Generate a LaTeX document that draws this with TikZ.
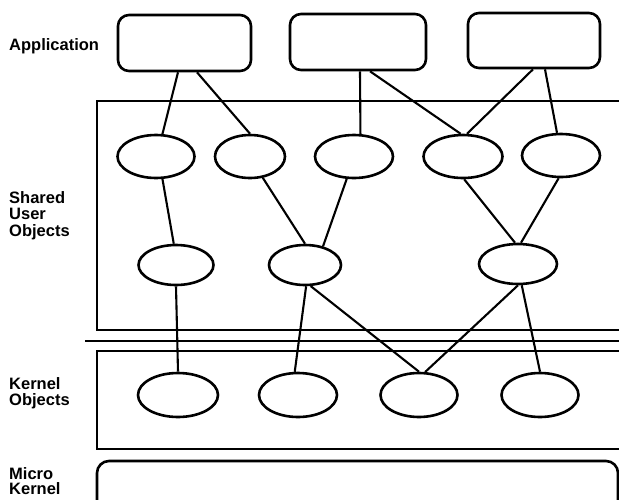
\documentclass[tikz,border=0pt]{standalone}
\usepackage{fontspec}
\setmainfont{Liberation Sans}
\usetikzlibrary{shapes.geometric}
\begin{document}
\begin{tikzpicture}[x=1pt,y=-1pt,
  frame/.style={line width=2.4pt},
  appbox/.style={draw,line width=2.6pt,rounded corners=11pt,minimum width=133pt,minimum height=56pt,inner sep=0pt},
  obj/.style={draw,line width=2.6pt,ellipse,minimum width=77pt,minimum height=43pt,inner sep=0pt},
  lbl/.style={anchor=base west,inner sep=0pt,font=\fontsize{16.5}{18}\selectfont\bfseries},
  conn/.style={line width=2.1pt}]
\useasboundingbox (0,0) rectangle (619,499);
% labels
\node[lbl] (lapp) at (9,50) {Application};
\node[lbl] (lsh1) at (9,203) {Shared};
\node[lbl] (lsh2) at (9,219) {User};
\node[lbl] (lsh3) at (9,236) {Objects};
\node[lbl] (lk1) at (9,389) {Kernel};
\node[lbl] (lk2) at (9,405) {Objects};
\node[lbl] (lm1) at (9,479) {Micro};
\node[lbl] (lm2) at (9,494.5) {Kernel};
% layer frames
\draw[frame] (625,101) -- (97,101) -- (97,330) -- (625,330);
\draw[frame] (85,341) -- (625,341);
\draw[frame] (625,351) -- (97,351) -- (97,449) -- (625,449);
\draw[frame,line width=2.6pt,rounded corners=12pt] (97,530) -- (97,461) -- (618,461) -- (618,530);
% application boxes
\node[appbox] (b1) at (184.5,43) {};
\node[appbox,minimum width=136pt] (b2) at (358,42) {};
\node[appbox,minimum width=132pt,minimum height=55pt] (b3) at (534,40.5) {};
% shared objects
\node[obj] (e1) at (156,156.5) {};
\node[obj,minimum width=70pt] (e2) at (250,156.5) {};
\node[obj,minimum width=78pt] (e3) at (354,156.5) {};
\node[obj,minimum width=79pt] (e4) at (463,156.5) {};
\node[obj,minimum width=78pt] (e5) at (561,155.5) {};
\node[obj,minimum width=75pt,minimum height=40pt] (e6) at (176,265) {};
\node[obj,minimum width=72pt,minimum height=40pt] (e7) at (305,265) {};
\node[obj,minimum width=78pt,minimum height=40pt] (e8) at (518,264) {};
% kernel objects
\node[obj,minimum width=80pt,minimum height=44pt] (e9) at (178,395) {};
\node[obj,minimum width=78pt,minimum height=44pt] (e10) at (298,395) {};
\node[obj,minimum width=77pt,minimum height=44pt] (e11) at (419,395) {};
\node[obj,minimum width=77pt,minimum height=44pt] (e12) at (540,395) {};
% connectors
\draw[conn] ([xshift=-6.5pt]b1.south) -- (e1.74);
\draw[conn] ([xshift=12.5pt]b1.south) -- (e2.north);
\draw[conn] ([xshift=2pt]b2.south) -- (e3.74);
\draw[conn] ([xshift=12pt]b2.south) -- (e4.96);
\draw[conn] ([xshift=-1pt]b3.south) -- (e4.80);
\draw[conn] ([xshift=11pt]b3.south) -- (e5.100);
\draw[conn] (e1.286) -- (e6.96);
\draw[conn] (e2.301) -- (e7.north);
\draw[conn] (e3.252) -- (e7.46);
\draw[conn] (e4.273) -- (e8.98);
\draw[conn] (e5.264) -- (e8.82);
\draw[conn] (e6.south) -- (e9.north);
\draw[conn] (e7.273) -- (e10.98);
\draw[conn] (e7.285) -- (e11.north);
\draw[conn] (e8.south) -- (e11.75);
\draw[conn] (e8.280) -- (e12.north);
\end{tikzpicture}
\end{document}
